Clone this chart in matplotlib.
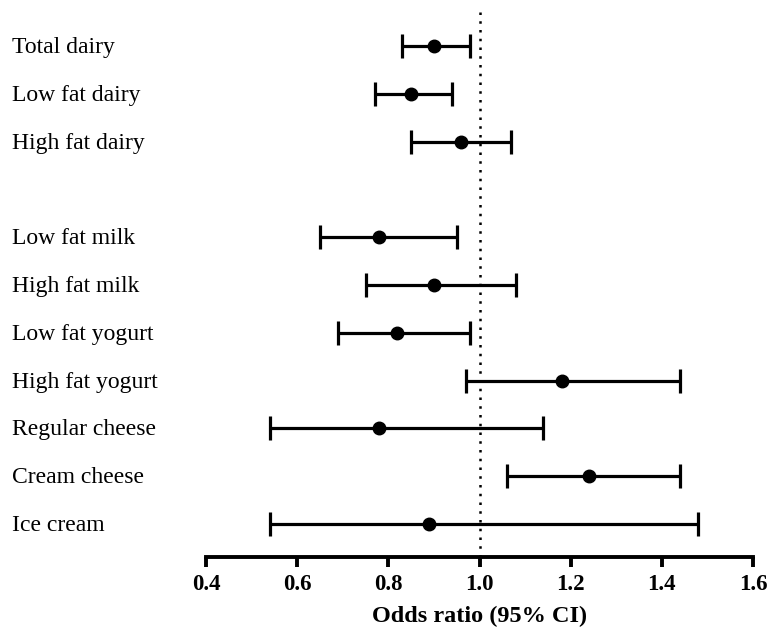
import matplotlib
matplotlib.use("Agg")
import matplotlib.pyplot as plt
from matplotlib.transforms import blended_transform_factory, offset_copy

labels = ["Total dairy", "Low fat dairy", "High fat dairy",
          "Low fat milk", "High fat milk", "Low fat yogurt", "High fat yogurt",
          "Regular cheese", "Cream cheese", "Ice cream"]
odds = [0.90, 0.85, 0.96, 0.78, 0.90, 0.82, 1.18, 0.78, 1.24, 0.89]
lower = [0.83, 0.77, 0.85, 0.65, 0.75, 0.69, 0.97, 0.54, 1.06, 0.54]
upper = [0.98, 0.94, 1.07, 0.95, 1.08, 0.98, 1.44, 1.14, 1.44, 1.48]
rows = [0, 1, 2, 4, 5, 6, 7, 8, 9, 10]
xticks = [0.4, 0.6, 0.8, 1.0, 1.2, 1.4, 1.6]

serif = ["Liberation Serif", "DejaVu Serif"]

fig = plt.figure(figsize=(7.71, 6.31), dpi=100)
ax = fig.add_axes([206/771, (631-557)/631, (753-206)/771, (557-12)/631])

xerr = [[o - l for o, l in zip(odds, lower)], [u - o for o, u in zip(odds, upper)]]
ax.errorbar(odds, rows, xerr=xerr, fmt="o", color="black", ecolor="black",
            markersize=9, elinewidth=2.3, capsize=8.8, capthick=2.3, zorder=3)
ax.axvline(1.0, color="black", lw=1.8, linestyle=(0, (1, 2.5)), zorder=2)

ax.set_xlim(0.4, 1.6)
ax.set_ylim(10.69, -0.71)
ax.set_xticks(xticks)
ax.set_xticklabels([f"{t:.1f}" for t in xticks], fontfamily=serif,
                   fontweight="bold", fontsize=16.5)
ax.set_yticks([])
for s in ["top", "right", "left"]:
    ax.spines[s].set_visible(False)
ax.spines["bottom"].set_linewidth(2.8)
ax.tick_params(axis="x", direction="out", length=7, width=2.8, pad=5)
ax.set_xlabel("Odds ratio (95% CI)", fontfamily=serif, fontweight="bold",
              fontsize=17.5, labelpad=8)

trans = blended_transform_factory(fig.transFigure, ax.transData)
trans = offset_copy(trans, fig=fig, y=-7, units="dots")
for lab, r in zip(labels, rows):
    ax.text(12/771, r, lab, transform=trans, ha="left", va="baseline",
            fontfamily=serif, fontsize=17, clip_on=False)

fig.savefig("out.png", dpi=100)
